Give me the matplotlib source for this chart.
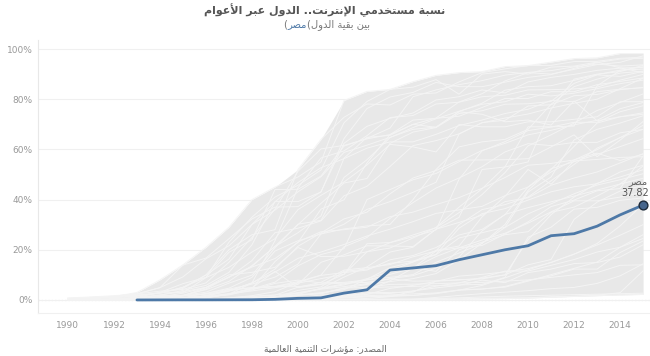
import numpy as np
import matplotlib
matplotlib.use("Agg")
import matplotlib.pyplot as plt

plt.rcParams['font.family'] = ['DejaVu Sans']

# years on the x axis
years = list(range(1990, 2016))

# internet users (% of population), other countries, 1990-2015
iceland = [0, 0.1, 1.3, 3.0, 8.0, 14.0, 21.0, 29.0, 40.0, 45.0, 49.0, 55.0, 79.5, 83.1, 83.9, 87.0, 89.5, 90.6, 91.0, 93.0, 93.4, 94.8, 96.2, 96.5, 98.2, 98.2]
sweden = [0.6, 1.0, 1.3, 1.8, 2.6, 5.1, 9.0, 23.0, 33.0, 41.0, 45.7, 51.8, 70.6, 79.1, 83.9, 84.8, 87.8, 82.0, 90.0, 91.0, 90.0, 92.8, 93.2, 94.8, 92.5, 90.6]
norway = [0.4, 0.6, 0.9, 1.4, 2.9, 4.6, 10.0, 20.0, 26.0, 28.0, 52.0, 64.0, 72.8, 78.1, 77.7, 82.0, 82.5, 86.9, 90.6, 92.1, 93.4, 93.5, 95.0, 95.1, 96.3, 96.8]
netherlands = [0.3, 0.6, 1.0, 1.6, 3.0, 6.5, 9.0, 19.0, 24.0, 44.0, 44.1, 49.4, 61.3, 64.4, 68.5, 81.0, 83.7, 85.8, 87.4, 89.6, 90.7, 91.4, 92.9, 94.0, 93.2, 93.7]
denmark = [0.1, 0.2, 0.4, 0.8, 1.9, 3.8, 5.8, 11.0, 22.0, 39.2, 39.2, 43.0, 64.3, 76.3, 80.9, 82.7, 86.7, 85.0, 85.0, 86.8, 88.7, 89.8, 92.3, 94.6, 96.0, 96.3]
finland = [0.4, 0.8, 1.5, 2.5, 4.9, 13.9, 16.7, 24.4, 32.3, 37.0, 37.2, 43.1, 62.4, 69.2, 72.4, 74.5, 79.7, 81.0, 83.7, 82.5, 86.9, 88.7, 89.9, 91.5, 92.4, 92.7]
usa = [0.8, 1.2, 1.7, 2.3, 4.9, 9.2, 16.4, 21.6, 30.1, 35.8, 43.1, 49.1, 58.8, 61.7, 64.8, 68.0, 68.9, 75.0, 74.0, 71.0, 71.7, 69.7, 79.3, 71.4, 73.0, 74.6]
uk = [0.1, 0.2, 0.3, 0.5, 0.9, 1.9, 4.1, 7.4, 13.7, 21.3, 26.8, 33.5, 56.5, 64.8, 65.6, 70.0, 68.8, 75.1, 78.4, 83.6, 85.0, 85.4, 87.5, 89.8, 91.6, 92.0]
japan = [0.0, 0.02, 0.04, 0.1, 0.4, 1.6, 4.4, 9.2, 13.4, 21.4, 30.0, 38.5, 46.6, 48.4, 62.4, 66.9, 68.7, 74.3, 75.4, 78.0, 78.2, 79.1, 86.3, 89.7, 89.1, 91.1]
korea = [0.02, 0.04, 0.1, 0.25, 0.3, 0.8, 1.6, 3.6, 6.8, 23.6, 44.7, 56.6, 59.4, 65.5, 72.7, 73.5, 78.1, 78.8, 81.0, 81.6, 83.7, 83.8, 84.1, 84.8, 87.6, 89.9]
germany = [0.1, 0.2, 0.5, 0.9, 1.8, 1.8, 3.1, 6.7, 9.9, 20.8, 30.2, 31.7, 48.8, 55.9, 64.7, 68.7, 72.2, 75.2, 78.0, 79.0, 82.0, 81.3, 82.4, 84.2, 86.2, 87.6]
france = [0.05, 0.1, 0.2, 0.3, 0.6, 1.6, 2.5, 4.3, 6.3, 9.1, 14.3, 26.3, 30.2, 36.1, 39.2, 42.9, 46.9, 66.1, 70.7, 71.6, 77.3, 77.8, 81.4, 81.9, 83.8, 84.7]
spain = [0.0, 0.02, 0.05, 0.1, 0.3, 0.4, 1.1, 2.2, 4.4, 7.1, 13.6, 18.1, 20.4, 40.0, 44.0, 47.9, 50.4, 55.1, 59.6, 62.4, 65.8, 67.6, 69.8, 71.6, 76.2, 78.7]
italy = [0.0, 0.02, 0.1, 0.2, 0.2, 0.5, 1.0, 2.3, 4.6, 15.3, 23.1, 27.2, 28.0, 29.0, 33.2, 35.0, 38.0, 40.8, 44.5, 48.8, 53.7, 54.4, 55.8, 58.5, 55.6, 58.1]
russia = [0.0, 0.0, 0.01, 0.02, 0.1, 0.15, 0.3, 0.5, 0.8, 1.0, 2.0, 2.9, 4.1, 8.3, 12.9, 15.2, 18.0, 24.7, 26.8, 29.0, 43.0, 49.0, 63.8, 68.0, 70.5, 73.4]
brazil = [0.0, 0.0, 0.01, 0.03, 0.04, 0.1, 0.4, 0.8, 1.5, 2.0, 2.9, 4.5, 9.1, 13.2, 19.1, 21.0, 28.2, 30.9, 33.8, 39.2, 40.7, 45.7, 48.6, 51.0, 54.6, 58.3]
china = [0.0, 0.0, 0.0, 0.0, 0.0, 0.0, 0.01, 0.03, 0.17, 0.7, 1.8, 2.6, 4.6, 6.2, 7.3, 8.5, 10.5, 16.0, 22.6, 28.9, 34.3, 38.3, 42.3, 45.8, 47.9, 50.3]
saudi = [0.0, 0.0, 0.0, 0.0, 0.0, 0.0, 0.0, 0.0, 0.0, 0.1, 2.2, 4.7, 6.4, 8.0, 10.2, 12.7, 19.5, 30.0, 36.0, 38.0, 41.0, 47.5, 54.0, 60.5, 64.7, 69.6]
uae = [0.0, 0.0, 0.0, 0.0, 0.2, 0.9, 2.6, 4.7, 9.0, 19.5, 23.6, 26.3, 28.3, 29.5, 30.1, 40.0, 52.0, 61.0, 63.0, 64.0, 68.0, 78.0, 85.0, 88.0, 90.4, 91.2]
turkey = [0.0, 0.0, 0.0, 0.0, 0.04, 0.1, 0.2, 0.3, 0.5, 1.0, 3.8, 5.2, 11.4, 12.3, 14.6, 15.5, 18.2, 28.6, 34.4, 36.4, 39.8, 43.1, 45.1, 46.3, 51.0, 53.7]
india = [0.0, 0.0, 0.0, 0.0, 0.0, 0.03, 0.05, 0.07, 0.14, 0.27, 0.5, 0.7, 1.5, 1.7, 2.0, 2.4, 2.8, 4.0, 4.4, 5.1, 7.5, 10.1, 12.6, 15.1, 21.0, 26.0]
indonesia = [0.0, 0.0, 0.0, 0.0, 0.0, 0.05, 0.2, 0.3, 0.3, 0.4, 0.9, 2.0, 2.1, 2.4, 2.6, 3.6, 4.8, 5.8, 7.9, 6.9, 10.9, 12.3, 14.5, 14.9, 17.1, 22.0]
pakistan = [0.0, 0.0, 0.0, 0.0, 0.0, 0.0, 0.0, 0.0, 0.03, 0.05, 0.1, 1.3, 2.6, 5.0, 6.2, 6.3, 6.5, 6.8, 7.0, 7.5, 8.0, 9.0, 10.0, 10.9, 13.8, 14.0]
nigeria = [0, 0, 0, 0, 0, 0, 0, 0.01, 0.02, 0.03, 0.06, 0.09, 0.3, 0.6, 1.3, 3.5, 5.5, 6.8, 9.0, 11.5, 11.5, 13.8, 16.1, 19.1, 21.0, 24.5]
morocco = [0.0, 0.0, 0.0, 0.0, 0.0, 0.0, 0.0, 0.05, 0.1, 0.2, 0.7, 1.4, 2.4, 3.4, 11.6, 15.1, 19.8, 21.5, 33.1, 41.3, 52.0, 46.1, 55.4, 56.0, 56.8, 57.1]
kenya = [0.0, 0.0, 0.0, 0.0, 0.0, 0.0, 0.01, 0.05, 0.1, 0.2, 0.3, 0.6, 1.2, 2.9, 3.0, 3.1, 7.5, 7.9, 8.7, 10.0, 14.0, 16.1, 32.1, 39.0, 43.4, 45.6]
ethiopia = [0.0, 0.0, 0.0, 0.0, 0.0, 0.0, 0.0, 0.0, 0.01, 0.01, 0.02, 0.04, 0.07, 0.11, 0.16, 0.22, 0.3, 0.37, 0.45, 0.54, 0.75, 1.1, 1.5, 1.9, 2.9, 11.6]
jordan = [0.0, 0.0, 0.0, 0.0, 0.0, 0.0, 0.1, 0.3, 0.5, 1.2, 2.6, 4.5, 6.0, 8.5, 11.2, 12.9, 11.4, 20.0, 23.0, 26.0, 27.2, 34.9, 37.0, 41.4, 46.2, 53.4]
tunisia = [0.0, 0.0, 0.0, 0.0, 0.0, 0.03, 0.1, 0.2, 0.6, 1.3, 2.8, 4.3, 5.3, 6.5, 8.5, 9.7, 12.7, 17.1, 27.5, 34.1, 36.8, 39.1, 41.4, 43.8, 46.2, 48.5]
lebanon = [0.0, 0.0, 0.0, 0.0, 0.0, 0.4, 1.2, 2.0, 4.0, 6.6, 7.9, 6.8, 7.0, 8.0, 9.0, 10.1, 15.0, 18.7, 22.5, 30.1, 43.7, 52.0, 61.2, 70.5, 73.0, 74.0]
qatar = [0.0, 0.0, 0.0, 0.0, 0.0, 0.2, 1.0, 2.2, 4.8, 11.4, 4.9, 6.2, 10.2, 19.2, 20.7, 24.7, 28.9, 37.0, 44.3, 53.1, 69.0, 69.0, 69.3, 85.3, 91.5, 92.9]
bahrain = [0.0, 0.0, 0.0, 0.0, 0.0, 0.03, 0.9, 2.4, 3.6, 4.9, 6.2, 15.0, 18.0, 21.6, 21.5, 21.3, 28.2, 32.9, 52.0, 53.0, 55.0, 76.0, 88.0, 90.0, 91.0, 93.5]
kuwait = [0.0, 0.0, 0.0, 0.0, 0.6, 1.0, 1.5, 2.5, 4.5, 5.3, 6.7, 8.5, 10.2, 22.4, 22.9, 25.9, 28.8, 34.8, 42.0, 50.8, 61.4, 65.8, 70.5, 75.5, 78.7, 82.1]
israel = [0.0, 0.0, 0.5, 1.0, 2.0, 3.3, 5.0, 10.0, 11.0, 13.0, 20.9, 17.3, 17.4, 19.2, 22.8, 25.2, 27.9, 48.1, 59.4, 63.1, 67.5, 68.9, 70.8, 70.8, 75.0, 77.4]
estonia = [0.0, 0.0, 0.0, 0.5, 1.2, 2.7, 5.0, 9.0, 15.7, 26.8, 28.6, 31.5, 41.5, 45.3, 53.2, 61.5, 63.5, 66.2, 70.6, 72.5, 74.1, 76.5, 78.4, 80.0, 84.2, 88.4]
australia = [0.6, 1.0, 1.3, 2.0, 2.8, 5.0, 9.9, 16.3, 30.1, 39.1, 46.8, 52.7, 56.3, 60.5, 63.0, 63.0, 66.0, 69.5, 71.7, 74.3, 76.0, 79.5, 79.0, 83.0, 84.0, 84.6]
canada = [0.4, 0.8, 1.3, 2.4, 3.5, 4.2, 6.8, 15.0, 24.9, 36.2, 51.3, 60.2, 61.6, 64.2, 65.9, 71.7, 72.4, 73.2, 76.7, 80.3, 80.3, 83.0, 83.0, 85.8, 87.1, 88.5]
bangladesh = [0, 0, 0, 0, 0, 0, 0, 0, 0, 0.02, 0.07, 0.13, 0.14, 0.16, 0.2, 0.24, 1.0, 1.8, 2.5, 3.1, 3.7, 4.5, 5.0, 6.6, 9.6, 14.4]
ghana = [0, 0, 0, 0, 0, 0.0, 0.02, 0.03, 0.06, 0.12, 0.15, 0.2, 0.8, 1.2, 1.7, 1.8, 2.7, 3.9, 4.3, 5.4, 7.8, 9.6, 12.3, 12.3, 18.9, 23.5]
vietnam = [0, 0, 0, 0, 0, 0, 0, 0.0, 0.01, 0.1, 0.25, 1.3, 1.9, 3.8, 7.6, 12.7, 17.3, 20.8, 23.9, 26.6, 30.6, 35.1, 39.5, 39.5, 41.0, 43.0]
philippines = [0, 0, 0, 0, 0.01, 0.03, 0.06, 0.2, 0.9, 1.3, 2.0, 2.5, 4.8, 4.9, 5.2, 5.4, 5.7, 6.0, 6.2, 9.0, 25.0, 29.0, 36.2, 36.9, 39.7, 40.7]
mexico = [0, 0, 0.01, 0.03, 0.04, 0.1, 0.2, 0.6, 1.3, 1.9, 5.1, 7.0, 11.9, 12.9, 14.1, 17.2, 19.5, 20.8, 21.7, 26.3, 31.1, 37.2, 39.8, 43.5, 44.4, 57.4]
argentina = [0, 0, 0, 0, 0.01, 0.08, 0.3, 0.8, 1.7, 3.3, 7.0, 9.8, 10.9, 11.9, 16.0, 17.7, 20.9, 25.9, 28.1, 34.0, 45.0, 51.0, 55.8, 59.9, 64.7, 68.0]
chile = [0, 0, 0.07, 0.2, 0.4, 0.7, 1.6, 3.5, 6.8, 11.1, 16.6, 19.1, 22.1, 25.5, 28.2, 31.2, 34.5, 35.9, 37.3, 41.6, 45.0, 52.3, 55.1, 58.0, 61.1, 64.3]
chad = [0, 0, 0, 0, 0, 0, 0, 0, 0, 0.01, 0.04, 0.05, 0.17, 0.32, 0.36, 0.4, 0.6, 0.85, 1.19, 1.5, 1.7, 1.9, 2.1, 2.3, 2.5, 2.7]
niger = [0, 0, 0, 0, 0, 0, 0, 0.0, 0.02, 0.03, 0.04, 0.1, 0.13, 0.16, 0.19, 0.22, 0.29, 0.39, 0.7, 0.76, 0.83, 1.3, 1.4, 1.7, 2.0, 2.2]
srilanka = [0, 0, 0, 0, 0, 0.03, 0.05, 0.1, 0.3, 0.5, 0.6, 0.8, 1.1, 1.5, 1.4, 1.8, 2.5, 3.9, 5.8, 8.8, 12.0, 15.0, 18.3, 21.9, 25.8, 30.0]
algeria = [0, 0, 0, 0, 0, 0, 0, 0, 0, 0.02, 0.5, 0.65, 1.6, 2.2, 4.6, 5.8, 7.4, 9.5, 10.2, 11.2, 12.5, 14.9, 18.2, 22.5, 29.5, 38.2]
southafrica = [0, 0, 0.01, 0.2, 0.8, 1.6, 2.3, 3.7, 4.9, 5.3, 5.3, 6.3, 6.7, 7.0, 8.4, 7.5, 7.6, 8.1, 8.4, 10.0, 24.0, 34.0, 41.0, 46.5, 49.0, 51.9]
poland = [0, 0.05, 0.1, 0.3, 0.6, 0.7, 1.8, 4.1, 4.9, 5.4, 7.3, 9.9, 21.2, 24.9, 32.5, 38.8, 44.6, 48.6, 53.1, 59.0, 62.3, 61.5, 62.8, 62.8, 66.6, 68.0]
malaysia = [0, 0, 0.0, 0.02, 0.05, 0.1, 0.8, 2.3, 6.7, 12.3, 21.4, 26.7, 32.3, 35.0, 42.3, 48.6, 51.6, 55.7, 55.8, 55.9, 56.3, 61.0, 65.8, 57.1, 63.7, 71.1]
singapore = [0, 0.1, 0.3, 1.0, 2.9, 2.9, 8.9, 13.0, 19.1, 24.4, 36.0, 41.7, 47.0, 53.8, 62.0, 61.0, 59.0, 69.9, 69.0, 69.0, 71.0, 71.0, 72.0, 73.0, 79.0, 79.0]
luxembourg = [0, 0, 0.3, 0.8, 1.4, 1.7, 4.9, 9.1, 13.1, 16.5, 22.9, 36.2, 39.9, 54.6, 65.9, 70.0, 72.5, 78.9, 82.2, 87.3, 90.6, 90.0, 91.9, 93.8, 94.7, 97.3]

others = [iceland, sweden, norway, netherlands, denmark, finland, usa, uk, japan, korea,
          germany, france, spain, italy, russia, brazil, china, saudi, uae, turkey,
          india, indonesia, pakistan, nigeria, morocco, kenya, ethiopia, jordan, tunisia,
          lebanon, qatar, bahrain, kuwait, israel, estonia, australia, canada, bangladesh,
          ghana, vietnam, philippines, mexico, argentina, chile, chad, niger, srilanka,
          algeria, southafrica, poland, malaysia, singapore, luxembourg]

# Egypt
egypt_years = list(range(1993, 2016))
egypt = [0.0, 0.02, 0.04, 0.04, 0.06, 0.08, 0.24, 0.64, 0.84, 2.72, 4.04, 11.9, 12.75,
         13.66, 16.03, 18.01, 20.0, 21.6, 25.6, 26.4, 29.4, 33.9, 37.82]

x_ticks = list(range(1990, 2015, 2))
y_ticks = [0, 20, 40, 60, 80, 100]

title = 'نسبة مستخدمي الإنترنت.. الدول عبر الأعوام'
subtitle_country = 'مصر'
subtitle_rest = 'بين بقية الدول'
source = 'المصدر: مؤشرات التنمية العالمية'

# matplotlib has no arabic shaping, so pick presentation forms by hand
# (isolated, final, initial, medial)
FORMS = {
    'ا': ('\uFE8D', '\uFE8E', None, None), 'أ': ('\uFE83', '\uFE84', None, None),
    'إ': ('\uFE87', '\uFE88', None, None), 'ؤ': ('\uFE85', '\uFE86', None, None),
    'د': ('\uFEA9', '\uFEAA', None, None), 'ر': ('\uFEAD', '\uFEAE', None, None),
    'و': ('\uFEED', '\uFEEE', None, None), 'ة': ('\uFE93', '\uFE94', None, None),
    'ب': ('\uFE8F', '\uFE90', '\uFE91', '\uFE92'), 'ت': ('\uFE95', '\uFE96', '\uFE97', '\uFE98'),
    'خ': ('\uFEA5', '\uFEA6', '\uFEA7', '\uFEA8'), 'س': ('\uFEB1', '\uFEB2', '\uFEB3', '\uFEB4'),
    'ش': ('\uFEB5', '\uFEB6', '\uFEB7', '\uFEB8'), 'ص': ('\uFEB9', '\uFEBA', '\uFEBB', '\uFEBC'),
    'ع': ('\uFEC9', '\uFECA', '\uFECB', '\uFECC'), 'ق': ('\uFED5', '\uFED6', '\uFED7', '\uFED8'),
    'ل': ('\uFEDD', '\uFEDE', '\uFEDF', '\uFEE0'), 'م': ('\uFEE1', '\uFEE2', '\uFEE3', '\uFEE4'),
    'ن': ('\uFEE5', '\uFEE6', '\uFEE7', '\uFEE8'), 'ه': ('\uFEE9', '\uFEEA', '\uFEEB', '\uFEEC'),
    'ي': ('\uFEF1', '\uFEF2', '\uFEF3', '\uFEF4'),
}
LAM_ALEF = {'ا': ('\uFEFB', '\uFEFC'), 'أ': ('\uFEF7', '\uFEF8'), 'إ': ('\uFEF9', '\uFEFA')}


def shape(text):
    out = []
    i = 0
    while i < len(text):
        c = text[i]
        if c not in FORMS:
            out.append(c)
            i += 1
            continue
        prev = text[i - 1] if i > 0 else ''
        joins_prev = prev in FORMS and FORMS[prev][2] is not None
        if c == 'ل' and i + 1 < len(text) and text[i + 1] in LAM_ALEF:
            out.append(LAM_ALEF[text[i + 1]][1 if joins_prev else 0])
            i += 2
            continue
        nxt = text[i + 1] if i + 1 < len(text) else ''
        joins_next = FORMS[c][2] is not None and nxt in FORMS
        iso, fin, ini, med = FORMS[c]
        if joins_prev and joins_next:
            out.append(med)
        elif joins_prev:
            out.append(fin)
        elif joins_next:
            out.append(ini)
        else:
            out.append(iso)
        i += 1
    return ''.join(reversed(out))


blue = '#4e79a7'
fig = plt.figure(figsize=(6.5, 3.56), dpi=100)
ax = fig.add_axes([38 / 650, 43 / 356, 612 / 650, 273 / 356])

data = np.array(others)
ax.fill_between(years, data.min(axis=0), data.max(axis=0), color='#e8e8e8', lw=0, zorder=2)
for s in others:
    ax.plot(years, s, color='#f4f4f4', lw=0.7, zorder=3)

ax.axhline(0, color='#bbbbbb', lw=0.8, ls=(0, (1, 2)), zorder=1)

ax.plot(egypt_years, egypt, color=blue, lw=2, zorder=5, solid_capstyle='round')
ax.scatter([egypt_years[-1]], [egypt[-1]], s=40, facecolor='#45658c', edgecolor='#1c2a3a',
           lw=1, zorder=6)
ax.annotate(f'{egypt[-1]:.2f}', (egypt_years[-1], egypt[-1]), xytext=(4, 5),
            textcoords='offset points', ha='right', va='bottom', fontsize=7, color='#555555')
ax.annotate(shape('مصر'), (egypt_years[-1], egypt[-1]), xytext=(3, 13),
            textcoords='offset points', ha='right', va='bottom', fontsize=7, color='#666666')

ax.set_xlim(1988.7, 2015.3)
ax.set_ylim(-5.2, 103.6)
ax.set_xticks(x_ticks)
ax.set_yticks(y_ticks)
ax.set_yticklabels([f'{v}%' for v in y_ticks])
ax.tick_params(length=0, labelsize=6.5, labelcolor='#999999')
ax.tick_params(axis='y', pad=4)
ax.tick_params(axis='x', pad=6)
ax.grid(axis='y', color='#f0f0f0', lw=0.8, zorder=0)
for side in ['top', 'right']:
    ax.spines[side].set_visible(False)
ax.spines['left'].set_color('#e8e8e8')
ax.spines['bottom'].set_color('#f0f0f0')

fig.text(0.5, 0.972, shape(title), ha='center', va='center', fontsize=8,
         fontweight='bold', color='#555555')
t1 = fig.text(0.436, 0.93, '(', ha='left', va='center', fontsize=7.2, color='#777777')
t2 = ax.annotate(shape(subtitle_country), xy=(1, 0.5), xycoords=t1, ha='left', va='center',
                 fontsize=7.2, color=blue, annotation_clip=False)
ax.annotate('(' + shape(subtitle_rest), xy=(1, 0.5), xycoords=t2, ha='left', va='center',
            fontsize=7.2, color='#777777', annotation_clip=False)
fig.text(0.5, 0.02, shape(source), ha='center', va='center', fontsize=6.5, color='#666666')

fig.savefig('out.png', dpi=100)
